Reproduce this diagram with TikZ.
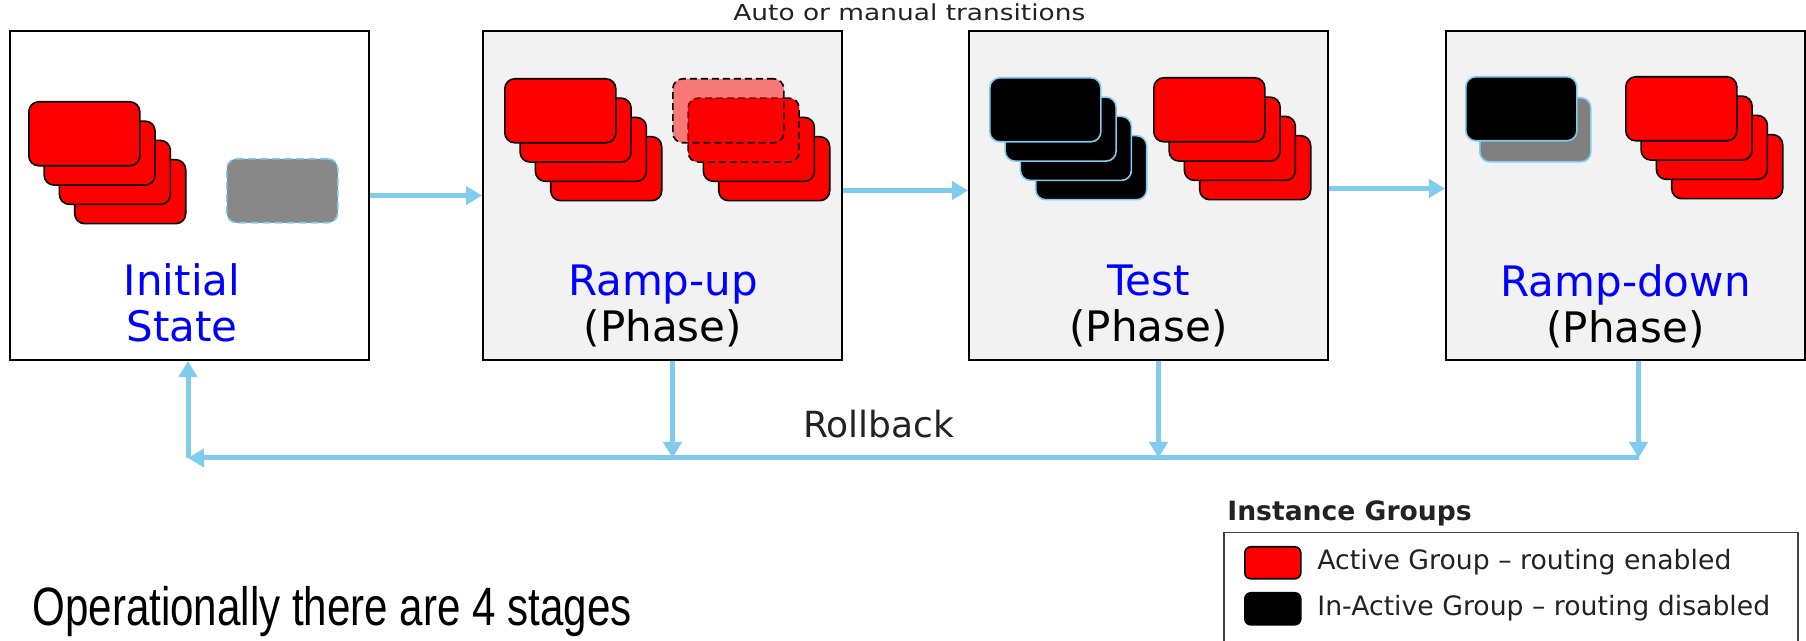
\documentclass[tikz,border=0pt]{standalone}
\usepackage{graphicx}
\usepackage{fontspec}
\setmainfont{DejaVu Sans}
\newfontfamily\arialfont{Liberation Sans}
\usepackage{tikz}
\usetikzlibrary{arrows.meta,positioning}
\definecolor{skyline}{RGB}{128,204,238}
\definecolor{panel}{RGB}{242,242,242}
\definecolor{lblblue}{RGB}{0,0,255}
\definecolor{inkgray}{RGB}{34,34,34}
\definecolor{idlegray}{RGB}{136,136,136}
\definecolor{oldgray}{RGB}{128,128,128}
\tikzstyle{phasebox} = [rectangle, draw=black, line width=1pt, minimum width=179.5pt, minimum height=164.5pt, inner sep=0pt, fill=panel]
\tikzstyle{phaselabel} = [anchor=base, align=center, inner sep=0pt, font=\fontsize{21pt}{23pt}\selectfont]
\tikzstyle{card} = [rectangle, rounded corners=5pt, minimum width=55.5pt, minimum height=32pt, inner sep=0pt, anchor=north west, draw=black, line width=0.8pt, fill=red]
\tikzstyle{blackcard} = [card, draw=skyline, fill=black]
\tikzstyle{legendtext} = [anchor=base west, inner sep=0pt, text=inkgray, font=\fontsize{13.35pt}{15pt}\selectfont]
\tikzstyle{arrow} = [line width=2.5pt, draw=skyline, -{Triangle[length=8pt,width=9pt]}]
% four cards, back one first
\newcommand{\cardstack}[5]{%
  \foreach \k in {3,2,1,0}
    \node[#5] (#1-\k) at ([shift={(#3+15.3*\k,#4+19.3*\k)}]#2.north west) {};
}

\begin{document}
\begin{tikzpicture}[x=0.5pt,y=-0.5pt]
\useasboundingbox (0,0) rectangle (1806,641);
\clip (0,0) rectangle (1806,641);

\node (init)[phasebox, fill=white] at (189.5,195.5) {};
\node (rampup)[phasebox, right=56pt of init] {};
\node (test)[phasebox, right=62.5pt of rampup] {};
\node (rampdown)[phasebox, right=58pt of test] {};

% base = last line
\node (init-lbl)[phaselabel, text=lblblue] at (182,342) {Initial\\State};
\node (rampup-lbl)[phaselabel] at (663,342) {\textcolor{lblblue}{Ramp-up}\\(Phase)};
\node (test-lbl)[phaselabel] at (1148.5,342) {\textcolor{lblblue}{Test}\\(Phase)};
\node (rampdown-lbl)[phaselabel] at (1625.5,343) {\textcolor{lblblue}{Ramp-down}\\(Phase)};

% instance groups
\cardstack{init-act}{init}{19}{71}{card}
\node (init-idle)[card, fill=idlegray, draw=skyline, dash pattern=on 4pt off 2pt] at ([shift={(217,128)}]init.north west) {};

\cardstack{rampup-act}{rampup}{22}{48}{card}
\foreach \k in {3,2}
  \node[card] (rampup-new-\k) at ([shift={(190+15.3*\k,48+19.3*\k)}]rampup.north west) {};
\node (rampup-new-1)[card, dash pattern=on 3.5pt off 2pt] at ([shift={(205.3,67.3)}]rampup.north west) {};
\node (rampup-new-0)[card, dash pattern=on 3.5pt off 2pt, fill opacity=0.5] at ([shift={(190,48)}]rampup.north west) {};

\cardstack{test-idle}{test}{21}{47}{blackcard}
\cardstack{test-act}{test}{185}{47}{card}

\node (rampdown-old)[blackcard, fill=oldgray] at ([shift={(34,67)}]rampdown.north west) {};
\node (rampdown-idle)[blackcard] at ([shift={(20,46)}]rampdown.north west) {};
\cardstack{rampdown-act}{rampdown}{180}{46}{card}

% transitions
\node (auto-lbl)[anchor=base west, inner sep=0pt, text=inkgray, font=\fontsize{11pt}{13pt}\selectfont] at (733,21) {\scalebox{1.2}[1]{Auto or manual transitions}};
\draw[arrow] (init) -- (rampup);
\draw[arrow] ([yshift=2.5pt]rampup.east) -- ([yshift=2.5pt]test.west);
\draw[arrow] ([yshift=3.5pt]test.east) -- ([yshift=3.5pt]rampdown.west);

% rollback
\coordinate (rb-left) at (188,458);
\coordinate (rb-right) at (1638.5,458);
\draw[arrow] ([xshift=5pt]rampup.south) -- ([xshift=5pt]rampup.south |- rb-left);
\draw[arrow] ([xshift=5pt]test.south) -- ([xshift=5pt]test.south |- rb-left);
\draw[arrow] (rampdown.south -| rb-right) -- (rb-right);
\draw[arrow] (rb-right) -- (rb-left);
\draw[arrow] (rb-left) -- (init.south -| rb-left);
\node (rollback-lbl)[anchor=base, inner sep=0pt, text=inkgray, font=\fontsize{18pt}{20pt}\selectfont] at (878.5,438) {Rollback};

% legend
\node (legend-title)[anchor=base west, inner sep=0pt, text=inkgray, font=\fontsize{13.3pt}{15pt}\selectfont\bfseries] at (1227,521) {Instance Groups};
\node (legend)[rectangle, draw=black!75, line width=0.75pt, minimum width=287pt, minimum height=80pt, anchor=north west, inner sep=0pt] at (1223,532) {};
\node (legend-act)[card, minimum width=28pt, minimum height=16pt, rounded corners=3pt] at (1244,546) {};
\node (legend-idle)[card, fill=black, minimum width=28pt, minimum height=16pt, rounded corners=3pt] at (1244,592) {};
\node (legend-act-txt)[legendtext] at (1317,570) {Active Group -- routing enabled};
\node (legend-idle-txt)[legendtext] at (1317,616) {In-Active Group -- routing disabled};

\node (summary)[anchor=base west, inner sep=0pt, font=\arialfont\fontsize{27pt}{30pt}\selectfont] at (32,625) {\scalebox{0.78}[1]{Operationally there are 4 stages}};

\end{tikzpicture}
\end{document}
